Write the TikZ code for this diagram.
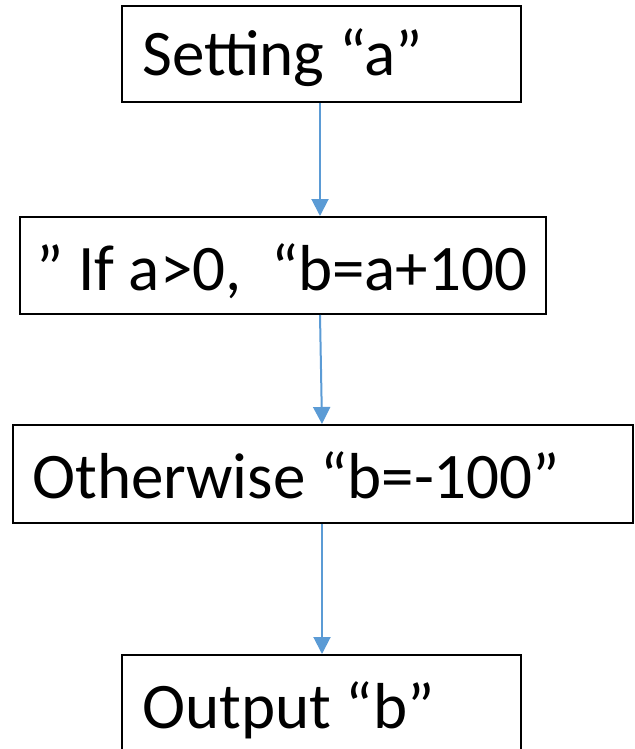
\documentclass[tikz,border=0pt]{standalone}
\usepackage{fontspec}
\setmainfont{Carlito}
\usetikzlibrary{arrows.meta,calc}
\definecolor{flowblue}{RGB}{91,155,213}
\begin{document}
\begin{tikzpicture}[x=1pt,y=-1pt,
  stepbox/.style={draw=black, line width=2pt, rectangle, inner sep=0pt},
  steptext/.style={anchor=base west, inner sep=0pt, font=\fontsize{65}{72}\selectfont},
  flow/.style={draw=flowblue, line width=2pt, -{Triangle[width=17pt,length=17pt]}}]
  \useasboundingbox (0,0) rectangle (634,749);
  % boxes
  \node[stepbox, minimum width=399pt, minimum height=96pt] (s1) at (321.5,54) {};
  \node[stepbox, minimum width=526pt, minimum height=97pt] (s2) at (283,265.5) {};
  \node[stepbox, minimum width=620pt, minimum height=98pt] (s3) at (322.5,474) {};
  \node[stepbox, minimum width=399pt, minimum height=98pt] (s4) at (321.5,704) {};
  % labels
  \node[steptext] (t1) at (142,76) {Setting “a”};
  \node[steptext] (t2) at (36,290) {” If a>0,\ \ “b=a+100};
  \node[steptext] (t3) at (32,498) {Otherwise “b=-100”};
  \node[steptext] (t4) at (142,728) {Output “b”};
  % connectors
  \draw[flow] (s1.south -| 320,0) -- (s2.north -| 320,0);
  \draw[flow] (s2.south -| 320,0) -- (s3.north -| 322,0);
  \draw[flow] (s3.south -| 322,0) -- (s4.north -| 322,0);
\end{tikzpicture}
\end{document}
